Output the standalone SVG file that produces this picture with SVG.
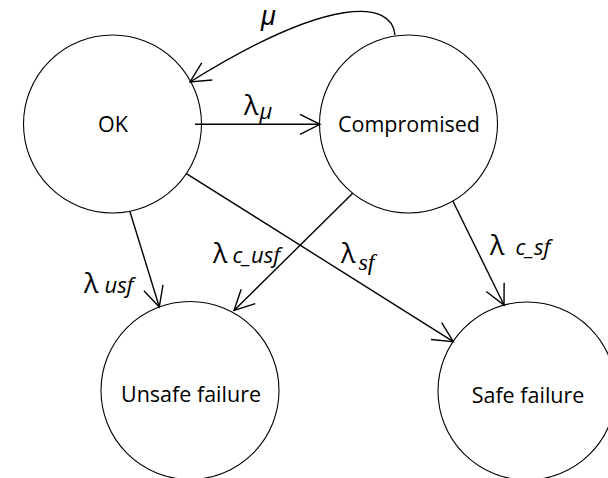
<svg xmlns="http://www.w3.org/2000/svg" width="608" height="478" viewBox="0 0 608 478">
  <style>
    .state { fill: #ffffff; stroke: #000000; stroke-width: 1.1; }
    .name { font-family: "Open Sans", "Noto Sans", sans-serif; font-size: 21.5px; fill: #000000; text-anchor: middle; }
    .edge { fill: none; stroke: #000000; stroke-width: 1.4; marker-end: url(#open); }
    .lam { font-family: "Open Sans", "Noto Sans", sans-serif; font-size: 27px; fill: #000000; }
    .sub { font-family: "Open Sans", "Noto Sans", sans-serif; font-style: italic; font-size: 22px; fill: #000000; }
    .subs { font-family: "Liberation Serif", serif; font-style: italic; font-size: 24px; fill: #000000; }
    .mu { font-family: "Liberation Sans", sans-serif; font-style: italic; font-size: 27px; fill: #000000; }
  </style>
  <defs>
    <marker id="open" markerUnits="userSpaceOnUse" markerWidth="24" markerHeight="24" viewBox="-22 -12 24 24" refX="0" refY="0" orient="auto" overflow="visible">
      <path d="M-20,-10 L0,0 L-20,10" fill="none" stroke="#000000" stroke-width="1.4"/>
    </marker>
  </defs>

  <rect width="608" height="478" fill="#ffffff"/>

  <g id="node-ok">
    <circle class="state" cx="112.5" cy="124" r="89"/>
    <text class="name" x="113" y="131.5">OK</text>
  </g>
  <g id="node-compromised">
    <circle class="state" cx="408.5" cy="124" r="89"/>
    <text class="name" x="409" y="131.5">Compromised</text>
  </g>
  <g id="node-unsafe">
    <circle class="state" cx="190" cy="390.5" r="89"/>
    <text class="name" x="191" y="402">Unsafe failure</text>
  </g>
  <g id="node-safe">
    <circle class="state" cx="527" cy="391" r="89"/>
    <text class="name" x="528" y="403">Safe failure</text>
  </g>

  <g id="connectors">
    <path class="edge" d="M395,35 C392,0 330,-5 190,82"/>
    <path class="edge" d="M195,124.3 L320,124.3"/>
    <path class="edge" d="M130,211.7 L159.3,307"/>
    <path class="edge" d="M186,173.3 L453.3,341.7"/>
    <path class="edge" d="M352.7,193.3 L234,310.5"/>
    <path class="edge" d="M452.7,200.7 L504,305"/>
  </g>

  <g id="labels">
    <text class="mu" x="261" y="25">μ</text>
    <text x="244" y="115"><tspan class="lam">λ</tspan><tspan class="sub" dx="1" dy="4">μ</tspan></text>
    <text x="84" y="293"><tspan class="lam">λ</tspan><tspan class="sub" dx="6">usf</tspan></text>
    <text x="213" y="263"><tspan class="lam">λ</tspan><tspan class="sub" dx="5">c_usf</tspan></text>
    <text x="341" y="263"><tspan class="lam">λ</tspan><tspan class="subs" dx="3" dy="7">sf</tspan></text>
    <text x="490" y="255"><tspan class="lam">λ</tspan><tspan class="sub" dx="11">c_sf</tspan></text>
  </g>
</svg>
